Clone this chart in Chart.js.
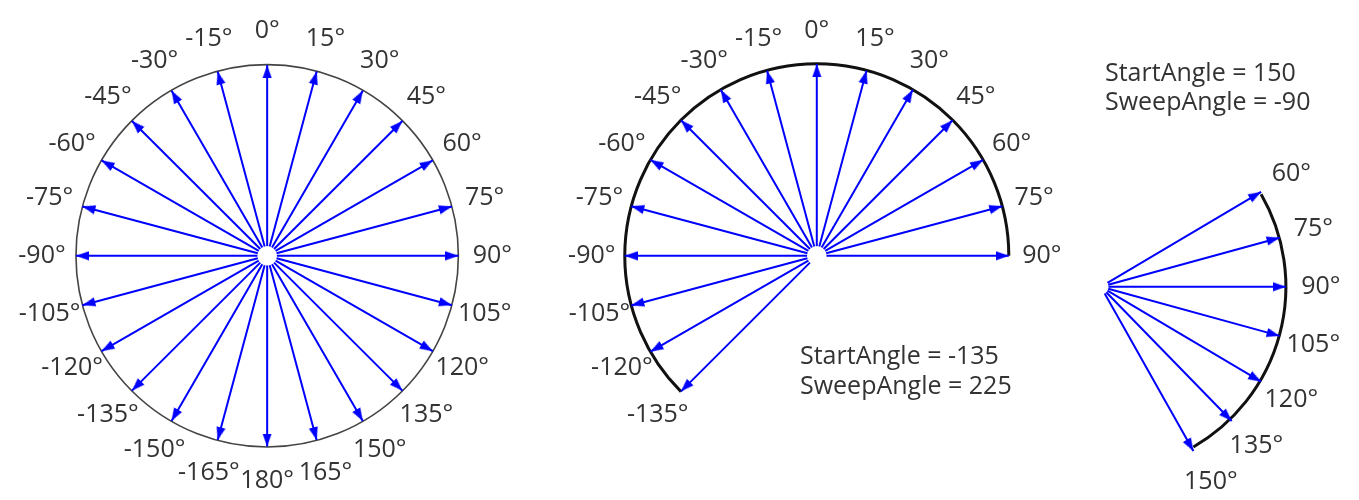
<!DOCTYPE html>
<html>
<head>
<meta charset="utf-8">
<script src="https://cdn.jsdelivr.net/npm/chart.js@4.4.0/dist/chart.umd.min.js"></script>
<style>
body{margin:0;background:#fff;width:1359px;height:500px;overflow:hidden;position:relative;}
.panel{position:absolute;top:0;height:500px;}
</style>
</head>
<body>
<div class="panel" style="left:0;width:545px"><canvas id="circulo"></canvas></div>
<div class="panel" style="left:545px;width:530px"><canvas id="arco"></canvas></div>
<div class="panel" style="left:1075px;width:284px"><canvas id="cuna"></canvas></div>
<script>

// Ángulos (grados, 0 = arriba, sentido horario)
var angulosCirculo = [0,15,30,45,60,75,90,105,120,135,150,165,180,-165,-150,-135,-120,-105,-90,-75,-60,-45,-30,-15];
var angulosArco = [-135,-120,-105,-90,-75,-60,-45,-30,-15,0,15,30,45,60,75,90];
var angulosCuna = [60,75,90,105,120,135,150];

// StartAngle, SweepAngle
var barridoArco = [-135, 225];
var barridoCuna = [150, -90];

var AZUL = '#0000ff';
var FUENTE = '"Open Sans", sans-serif';

function crearPunta(){
	var c=document.createElement('canvas');
	c.width=10; c.height=26;
	var g=c.getContext('2d');
	g.fillStyle=AZUL;
	g.beginPath();
	g.moveTo(5,13);
	g.lineTo(9.6,26);
	g.lineTo(0.4,26);
	g.closePath();
	g.fill();
	return c;
}
var punta=crearPunta();

function rad(a){ return a*Math.PI/180; }

var pluginDibujo = {
	'id':'dibujo',
	'beforeDatasetsDraw':function(chart){
		var o=chart.options.plugins.dibujo;
		var sx=chart.scales.x, sy=chart.scales.y;
		var cx=sx.getPixelForValue(0), cy=sy.getPixelForValue(0);
		var r=sx.getPixelForValue(o.radio)-cx;
		var ctx=chart.ctx;
		ctx.save();
		ctx.strokeStyle=o.colorArco;
		ctx.lineWidth=o.grosorArco;
		ctx.beginPath();
		var a0=Math.min(o.desde,o.hasta), a1=Math.max(o.desde,o.hasta);
		ctx.arc(cx,cy,r,rad(a0-90),rad(a1-90));
		ctx.stroke();
		ctx.restore();
	},
	'afterDraw':function(chart){
		var o=chart.options.plugins.dibujo;
		var sx=chart.scales.x, sy=chart.scales.y;
		var ctx=chart.ctx;
		ctx.save();
		ctx.fillStyle='#333';
		ctx.font=o.tamano+'px '+FUENTE;
		ctx.textAlign='center';
		ctx.textBaseline='middle';
		var angulos=o.angulos;
		for(var i=0;i<angulos.length;i++){
			var a=angulos[i];
			var px=sx.getPixelForValue(o.radioEtiqueta*Math.sin(rad(a)));
			var py=sy.getPixelForValue(o.radioEtiqueta*Math.cos(rad(a)));
			ctx.fillText(a+'°',px,py);
		}
		if(o.barrido){
			ctx.textAlign='left';
			ctx.textBaseline='alphabetic';
			ctx.fillText('StartAngle = '+o.barrido[0],o.texto[0],o.texto[1]);
			ctx.fillText('SweepAngle = '+o.barrido[1],o.texto[0],o.texto[1]+o.texto[2]);
		}
		ctx.restore();
	}
};

function crearDiagrama(id,angulos,d){
	var datasets=[];
	for(var i=0;i<angulos.length;i++){
		var a=angulos[i];
		datasets.push({
			data:[
				{x:d.radioInterior*Math.sin(rad(a)),y:d.radioInterior*Math.cos(rad(a))},
				{x:d.radio*Math.sin(rad(a)),y:d.radio*Math.cos(rad(a))}
			],
			showLine:true,
			borderColor:AZUL,
			borderWidth:2,
			pointRadius:[0,6],
			pointStyle:punta,
			pointRotation:a,
			clip:false
		});
	}
	var ancho=d.ancho;
	return new Chart(document.getElementById(id),{
		type:'scatter',
		data:{datasets:datasets},
		options:{
			responsive:true,
			maintainAspectRatio:false,
			animation:false,
			layout:{padding:0},
			scales:{
				x:{type:'linear',display:false,min:-(d.centro[0]-d.izquierda),max:d.izquierda+ancho-d.centro[0]},
				y:{type:'linear',display:false,min:d.centro[1]-500,max:d.centro[1]}
			},
			plugins:{
				legend:{display:false},
				tooltip:{enabled:false},
				dibujo:{
					angulos:angulos,
					radio:d.radio,
					radioEtiqueta:d.radioEtiqueta,
					desde:d.arco[0],
					hasta:d.arco[1],
					colorArco:d.colorArco,
					grosorArco:d.grosorArco,
					tamano:d.tamano,
					barrido:d.barrido||null,
					texto:d.texto||null
				}
			}
		},
		plugins:[pluginDibujo]
	});
}

crearDiagrama('circulo',angulosCirculo,{
	izquierda:0, ancho:545, centro:[267,256],
	radio:197, radioInterior:10, radioEtiqueta:232,
	arco:[-180,180], colorArco:'#444', grosorArco:1.6, tamano:25
});

crearDiagrama('arco',angulosArco,{
	izquierda:545, ancho:530, centro:[817,256],
	radio:198, radioInterior:10, radioEtiqueta:232,
	arco:[barridoArco[0],barridoArco[0]+barridoArco[1]], colorArco:'#111', grosorArco:3, tamano:25,
	barrido:barridoArco, texto:[800-545,364,30]
});

crearDiagrama('cuna',angulosCuna,{
	izquierda:1075, ancho:284, centro:[1094,288],
	radio:196, radioInterior:8, radioEtiqueta:233,
	arco:[barridoCuna[0],barridoCuna[0]+barridoCuna[1]], colorArco:'#111', grosorArco:3, tamano:25,
	barrido:barridoCuna, texto:[1105-1075,81,29]
});
</script>
</body>
</html>
